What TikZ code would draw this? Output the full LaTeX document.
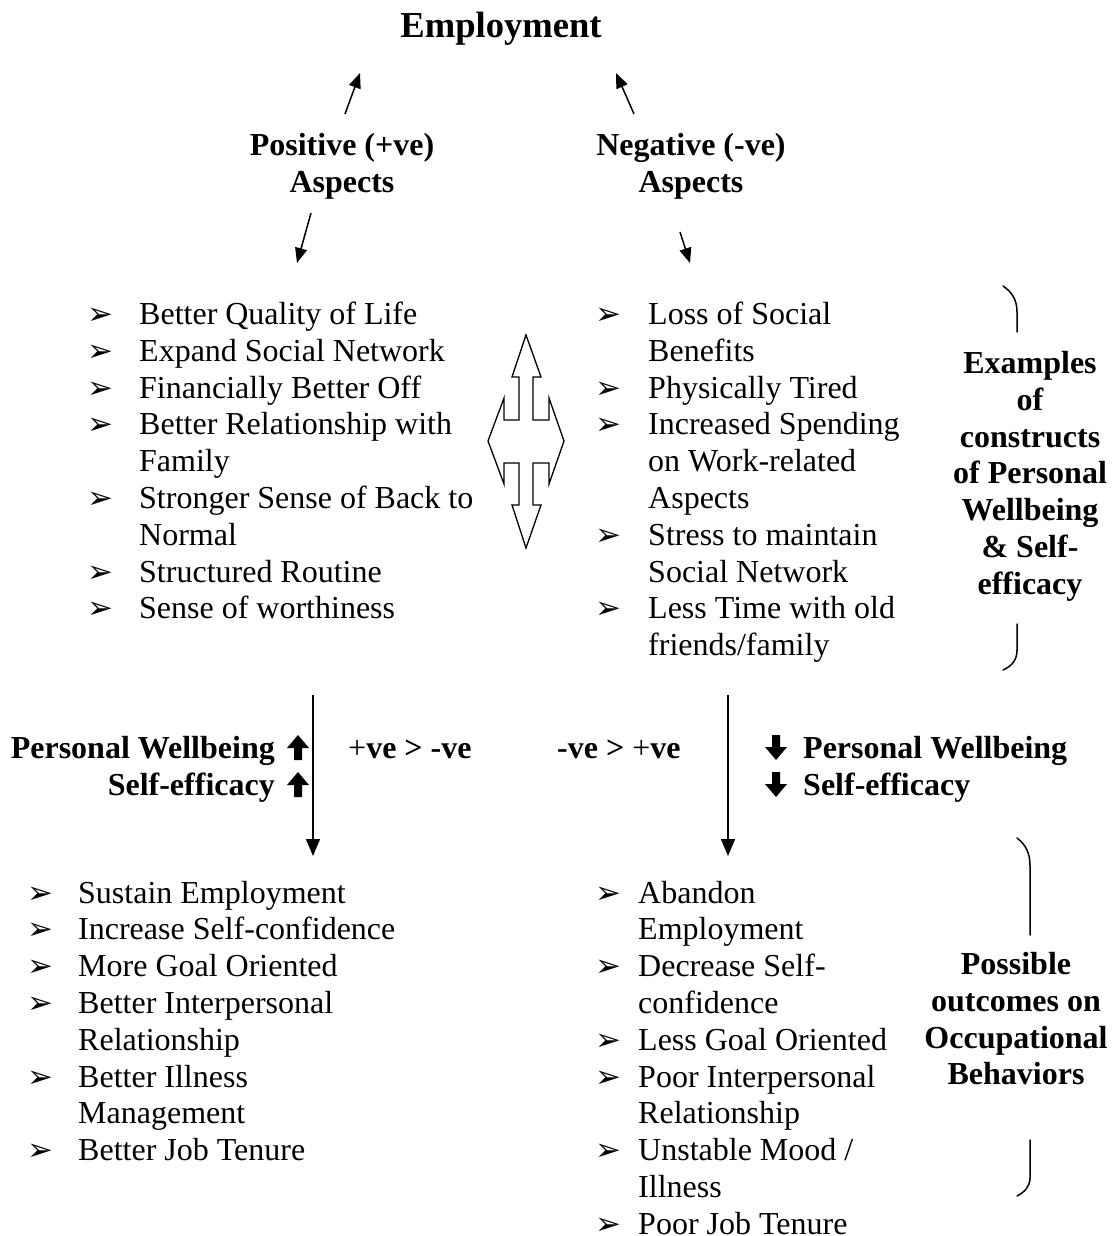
\documentclass[tikz,border=0pt]{standalone}
\usepackage{fontspec}
\setmainfont{Liberation Serif}
\newfontfamily\dejavu{DejaVu Sans}
\usetikzlibrary{arrows.meta}
\newcommand{\bul}{{\dejavu\fontsize{31}{31}\selectfont ➢}}
\newcommand{\blist}[2]{\begin{tabular}[t]{@{}p{#1}@{}l@{}}#2\end{tabular}}
\newcommand{\ctab}[1]{\begin{tabular}[t]{@{}c@{}}#1\end{tabular}}
\tikzset{
  body/.style={inner sep=0pt, font=\fontsize{32}{36.8}\selectfont},
  bbody/.style={inner sep=0pt, font=\fontsize{32}{36.8}\selectfont\bfseries},
  conn/.style={line width=1.5pt, -{Triangle[length=15pt,width=12pt]}},
  vconn/.style={line width=1.5pt, -{Triangle[length=17pt,width=14pt]}},
  brack/.style={line width=1.5pt, line cap=round},
  fourway/.style={line width=1.3pt, line join=miter},
  heavy/.style={fill=black, draw=none},
}
\begin{document}
\begin{tikzpicture}[x=1pt,y=-1pt]
\useasboundingbox (0,0) rectangle (1111,1236);

% title and aspect labels
\node[anchor=base, inner sep=0pt, font=\fontsize{36.6}{40}\selectfont\bfseries] (emp) at (501,38) {Employment};
\node[bbody, anchor=base] (pos) at (342,155.5) {\ctab{Positive (+ve)\\Aspects}};
\node[bbody, anchor=base] (neg) at (691,155.5) {\ctab{Negative (-ve)\\Aspects}};

% arrows at the top
\coordinate (pa1) at (345,114); \coordinate (pa2) at (360,73);
\coordinate (na1) at (634,114); \coordinate (na2) at (616,73);
\coordinate (pd1) at (311,213); \coordinate (pd2) at (297,263);
\coordinate (nd1) at (680,232); \coordinate (nd2) at (690,263);
\draw[conn] (pa1) -- (pa2);
\draw[conn] (na1) -- (na2);
\draw[conn] (pd1) -- (pd2);
\draw[conn] (nd1) -- (nd2);

% top lists
\node[body, anchor=base west] (poslist) at (87,324.5) {\blist{52pt}{%
\bul & Better Quality of Life\\
\bul & Expand Social Network\\
\bul & Financially Better Off\\
\bul & Better Relationship with\\
 & Family\\
\bul & Stronger Sense of Back to\\
 & Normal\\
\bul & Structured Routine\\
\bul & Sense of worthiness}};

\node[body, anchor=base west] (neglist) at (595,324.5) {\blist{53pt}{%
\bul & Loss of Social\\
 & Benefits\\
\bul & Physically Tired\\
\bul & Increased Spending\\
 & on Work-related\\
 & Aspects\\
\bul & Stress to maintain\\
 & Social Network\\
\bul & Less Time with old\\
 & friends/family}};

% four-way arrow
\draw[fourway] (526,335) -- (541,377) -- (533,377) -- (533,420) -- (549,420) -- (549,398)
  -- (564,441) -- (549,484) -- (549,463) -- (533,463) -- (533,505) -- (541,505)
  -- (526,548) -- (512,505) -- (519,505) -- (519,463) -- (504,463) -- (504,484)
  -- (488,441) -- (504,398) -- (504,420) -- (519,420) -- (519,377) -- (512,377) -- cycle;

% right label 1
\node[bbody, anchor=base] (constr) at (1030,373.5) {\ctab{Examples\\of\\constructs\\of Personal\\Wellbeing\\\& Self-\\efficacy}};
\draw[brack] (1003,286) .. controls (1012,292) and (1017,300) .. (1017,312) -- (1017,332);
\draw[brack] (1017,624) -- (1017,650) .. controls (1017,660) and (1012,666) .. (1003,670);

% middle
\node[bbody, anchor=base east] (pw1) at (275,758) {Personal Wellbeing};
\node[bbody, anchor=base east] (se1) at (275,795) {Self-efficacy};
\node[body, anchor=base west] (cmp1) at (348,758) {+\textbf{ve > -ve}};
\node[body, anchor=base west] (cmp2) at (557,758) {\textbf{-ve >} +\textbf{ve}};
\node[bbody, anchor=base west] (pw2) at (803,758) {Personal Wellbeing};
\node[bbody, anchor=base west] (se2) at (803,795) {Self-efficacy};

% heavy up / down arrows
\foreach \yy in {735,772} {
  \fill[heavy] (298,\yy) -- (309,\yy+13) -- (302,\yy+13) -- (302,\yy+25) -- (294,\yy+25) -- (294,\yy+13) -- (287,\yy+13) -- cycle;
  \fill[heavy] (776,\yy+25) -- (787,\yy+12) -- (780,\yy+12) -- (780,\yy) -- (772,\yy) -- (772,\yy+12) -- (765,\yy+12) -- cycle;
}

\coordinate (lv1) at (313,695); \coordinate (lv2) at (313,856);
\coordinate (rv1) at (728,695); \coordinate (rv2) at (728,856);
\draw[vconn] (lv1) -- (lv2);
\draw[vconn] (rv1) -- (rv2);

% bottom lists
\node[body, anchor=base west] (outpos) at (27,903) {\blist{51pt}{%
\bul & Sustain Employment\\
\bul & Increase Self-confidence\\
\bul & More Goal Oriented\\
\bul & Better Interpersonal\\
 & Relationship\\
\bul & Better Illness\\
 & Management\\
\bul & Better Job Tenure}};

\node[body, anchor=base west] (outneg) at (595,903) {\blist{43pt}{%
\bul & Abandon\\
 & Employment\\
\bul & Decrease Self-\\
 & confidence\\
\bul & Less Goal Oriented\\
\bul & Poor Interpersonal\\
 & Relationship\\
\bul & Unstable Mood /\\
 & Illness\\
\bul & Poor Job Tenure}};

% right label 2
\node[bbody, anchor=base] (outc) at (1016,974.5) {\ctab{Possible\\outcomes on\\Occupational\\Behaviors}};
\draw[brack] (1017,838) .. controls (1026,845) and (1030,853) .. (1030,866) -- (1030,935);
\draw[brack] (1030,1140) -- (1030,1178) .. controls (1030,1186) and (1025,1192) .. (1017,1196);
\end{tikzpicture}
\end{document}
